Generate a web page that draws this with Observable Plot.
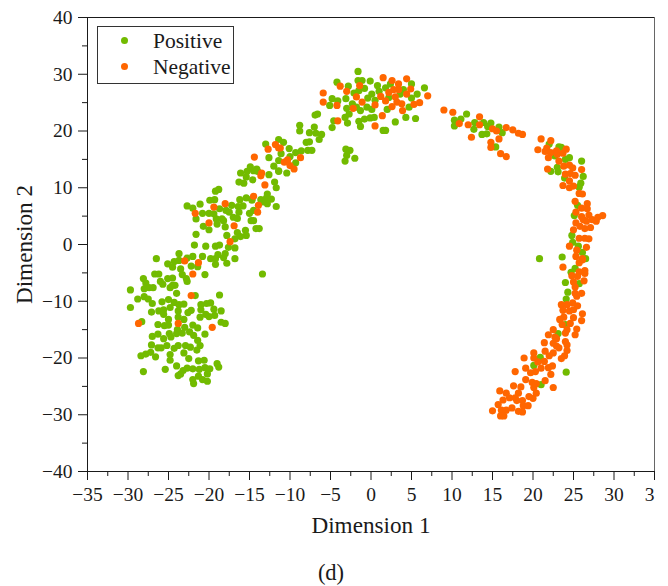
<!DOCTYPE html>
<html><head><meta charset="utf-8">
<script src="https://cdn.jsdelivr.net/npm/d3@7"></script>
<script src="https://cdn.jsdelivr.net/npm/@observablehq/plot@0.6"></script>
<style>
html,body{margin:0;padding:0;background:#fff;}
#wrap{position:relative;width:668px;height:586px;overflow:hidden;font-family:"Liberation Serif",serif;color:#1a1a1a;}
#legend{position:absolute;left:97px;top:26px;width:135px;height:56px;border:1px solid #333;box-sizing:content-box;}
.row{position:absolute;left:0;height:26px;font-size:21.5px;line-height:26px;}
.row i{position:absolute;left:23px;top:9px;width:7px;height:7px;border-radius:50%;}
.row span{position:absolute;left:55px;white-space:nowrap;}
#caption{position:absolute;left:0;width:662px;text-align:center;top:560px;font-size:22.5px;line-height:26px;}
</style></head><body><div id="wrap"></div>
<script>
const positive = [
[-16.1,12.6],[-15.4,11.9],[-15.7,10.8],[-16.3,11.0],[-14.6,11.4],[-12.6,12.3],[-11.9,11.0],[-11.7,10.0],[-11.4,12.9],[-10.4,12.6],[-15.3,12.9],[-14.0,12.9],
[-12.8,8.9],[-16.2,7.9],[-15.4,8.2],[-14.7,7.8],[-14.7,8.0],[-13.6,7.9],[-12.9,8.2],[-12.3,8.0],[-12.8,7.2],[-11.7,6.7],[-13.3,7.5],[-19.2,9.4],[-18.8,9.7],[-19.9,7.8],[-19.3,7.9],[-21.1,7.1],[-22.7,6.8],[-22.0,6.4],
[-20.8,5.5],[-20.0,5.5],[-19.4,5.4],[-18.7,6.3],[-17.9,6.0],[-17.2,6.9],[-16.4,6.7],[-15.8,6.8],[-17.5,5.7],[-17.0,4.8],[-16.3,5.7],[-16.5,4.6],[-15.0,5.5],[-14.5,6.0],[-21.6,4.5],[-19.1,4.5],[-18.4,4.5],[-18.2,4.2],[-19.0,3.6],[-20.7,3.2],[-20.0,2.6],[-18.0,3.1],
[-14.8,4.2],[-14.5,4.2],[-14.2,2.8],[-13.8,2.8],[-16.5,2.1],[-15.5,2.5],[-15.4,1.6],[-16.1,1.4],[-16.8,1.0],[-17.8,1.6],[-21.6,1.8],[-21.8,-0.1],[-20.4,-0.3],[-19.2,-0.3],[-18.7,-0.1],[-17.6,-0.5],[-16.8,-0.6],
[-23.7,-1.6],[-22.0,-2.1],[-22.7,-2.4],[-20.8,-2.1],[-18.9,-1.8],[-18.0,-1.6],[-19.8,-2.5],[-19.2,-2.5],[-18.2,-2.3],[-16.8,-2.5],[-17.8,-3.3],[-19.2,-3.5],[-26.5,-2.5],[-25.1,-3.4],[-24.3,-3.0],[-23.7,-2.8],[-24.5,-4.0],[-23.5,-4.3],[-22.2,-3.8],[-21.4,-3.9],[-20.5,-5.3],[-13.4,-5.2],
[-23.3,-5.3],[-22.8,-6.0],[-22.7,-6.5],[-26.7,-5.2],[-26.2,-5.2],[-28.1,-6.0],[-27.8,-6.8],[-26.0,-6.5],[-25.7,-7.0],[-25.1,-6.0],[-24.5,-5.9],[-24.5,-7.2],[-24.2,-7.2],[-28.0,-7.8],[-27.4,-7.6],[-26.9,-7.6],[-24.8,-7.6],[-24.0,-8.6],[-29.7,-8.0],
[-28.8,-9.6],[-28.0,-9.2],[-27.5,-9.6],[-27.0,-10.4],[-25.8,-10.1],[-25.0,-9.7],[-24.3,-10.2],[-23.7,-10.6],[-23.1,-10.5],[-21.7,-9.0],[-18.7,-8.9],[-29.7,-11.1],[-27.1,-11.9],[-26.2,-11.7],[-25.6,-11.5],[-24.8,-11.1],[-23.8,-11.7],[-25.6,-12.3],[-25.0,-13.2],[-23.8,-12.8],[-23.1,-13.2],[-22.2,-11.6],[-22.6,-12.0],
[-21.0,-10.6],[-20.3,-10.4],[-19.8,-10.3],[-21.0,-11.5],[-19.4,-11.4],[-18.5,-11.7],[-21.1,-12.8],[-20.4,-12.3],[-20.0,-12.7],[-19.3,-12.5],[-28.3,-13.6],[-26.3,-14.1],[-25.5,-14.3],[-25.0,-14.2],[-18.5,-13.7],[-18.0,-13.9],[-23.9,-15.0],[-23.0,-14.6],[-22.0,-14.2],[-21.4,-14.7],
[-27.0,-16.2],[-26.3,-15.8],[-24.9,-15.7],[-24.7,-16.3],[-24.0,-15.7],[-23.3,-15.6],[-22.4,-15.4],[-21.9,-16.0],[-20.5,-15.8],[-25.6,-16.6],[-21.4,-16.9],[-21.1,-17.8],[-27.1,-17.7],[-26.3,-18.2],[-25.9,-18.2],[-25.2,-17.8],[-24.3,-18.3],[-23.8,-17.8],[-22.9,-17.8],[-22.3,-18.1],[-21.5,-18.6],
[-24.8,-19.4],[-23.1,-19.1],[-28.4,-19.6],[-27.8,-19.3],[-27.2,-19.0],[-26.6,-19.8],[-24.8,-20.4],[-22.5,-20.1],[-21.3,-20.5],[-20.6,-20.4],[-19.0,-21.0],[-18.8,-21.6],[-24.0,-21.4],[-25.4,-22.0],[-28.1,-22.4],[-23.2,-22.2],[-22.7,-21.8],[-22.0,-21.9],[-21.2,-22.0],[-20.5,-21.7],[-19.9,-21.9],[-23.5,-22.8],[-23.8,-23.1],[-20.2,-22.8],[-21.3,-23.2],[-22.0,-23.8],[-20.8,-23.8],[-20.2,-24.1],[-21.9,-24.5],
[-1.6,30.5],[-4.2,28.6],[-2.8,27.9],[-1.6,28.9],[-1.1,28.9],[-0.1,28.8],[0.8,28.0],[1.8,27.6],[2.4,28.3],[5.0,28.3],[6.6,27.6],[-2.1,26.7],[-1.5,27.1],[-0.8,27.5],[0.1,26.5],[1.0,27.0],[4.0,27.3],[3.6,26.5],[5.7,26.5],[-0.4,25.8],[0.5,25.4],[2.2,25.9],[5.0,25.8],[-3.1,25.7],[-4.8,25.7],[-4.1,25.3],[-5.1,24.5],[-2.3,24.8],[-3.0,24.0],[-1.8,24.2],[-1.3,23.6],[-0.5,24.2],[0.1,23.8],[2.0,23.8],[4.7,24.2],[-2.7,23.0],[-3.2,22.4],[-6.6,23.0],[-6.9,22.8],[-4.6,21.8],[-2.9,21.4],[-1.5,21.7],[-0.8,22.1],[-0.1,22.3],[0.4,22.4],[3.0,21.6],[4.3,22.4],[5.5,22.2],[-1.3,20.8],[-4.8,20.6],[1.5,20.1],[1.8,20.1],
[-8.8,21.0],[-8.8,20.0],[-7.0,20.7],[-7.6,19.7],[-6.8,19.6],[-6.1,19.4],[-6.4,18.5],[-8.0,18.0],[-7.6,18.1],[-3.1,16.8],[-2.6,16.6],[-3.0,15.7],[-3.2,14.7],[-2.0,15.2],[-13.0,17.7],[-11.4,18.5],[-10.8,18.0],[-10.1,16.9],[-9.3,16.2],[-8.6,16.5],[-7.8,16.6],[-7.3,16.6],[-10.0,15.5],[-11.1,16.0],[-12.6,15.3],[-11.4,14.8],[-9.3,14.4],[-12.0,13.8],[-11.4,13.0],[-14.9,13.7],[-14.1,13.3],[-14.5,13.0],
[11.8,23.0],[10.3,21.9],[11.1,22.1],[10.3,20.9],[12.8,21.5],[13.9,21.5],[14.8,21.4],[14.4,20.8],[12.7,20.3],[15.8,20.7],[16.2,19.7],[13.7,19.4],[14.3,19.5],[15.4,17.2],[22.0,17.7],[23.2,17.2],[23.5,17.1],[22.7,15.6],[24.5,15.3],[24.0,15.0],[26.0,14.7],[23.0,13.6],[22.2,12.9],[23.1,12.8],[26.2,12.0],[23.9,11.7],[25.9,10.8],[25.7,10.1],[25.5,6.9],[25.1,5.1],[24.8,1.6],[24.9,0.4],[25.6,-0.3],[26.1,-1.4],[23.6,-2.2],[20.8,-2.5],[26.5,-2.5],
[25.2,-4.2],[24.7,-4.9],[25.7,-6.9],[24.0,-6.7],[24.3,-8.4],[24.1,-9.6],[24.0,-14.1],[23.1,-15.7],[20.9,-19.9],[20.1,-21.3],[24.1,-22.5],[21.0,-24.7]
];
const negative = [
[-13.5,12.6],[-13.6,12.1],[-13.1,10.5],[-14.5,8.5],[-13.9,6.9],[-14.0,5.7],[-19.4,6.6],[-18.0,7.2],[-21.7,5.5],[-20.0,3.8],[-16.9,3.3],[-17.4,0.5],[-23.0,-2.9],[-21.3,-3.2],[-22.0,-5.2],[-22.2,-9.0],[-28.7,-13.9],[-23.8,-13.9],[-19.6,-14.6],
[1.5,29.4],[2.6,28.9],[4.4,29.2],[3.4,28.3],[-3.8,27.9],[-1.4,28.0],[-3.0,27.0],[-5.9,26.7],[4.9,27.4],[3.4,27.3],[2.8,27.3],[2.2,26.8],[1.2,26.1],[4.4,26.5],[7.0,26.2],[3.0,26.0],[-1.8,26.0],[1.8,25.3],[-1.1,25.1],[3.2,25.1],[3.8,24.8],[6.0,25.0],[5.3,24.7],[-5.9,25.1],[-4.2,24.5],[0.5,24.6],[2.6,24.3],[-2.2,24.0],[3.9,23.6],[1.4,22.7],[-4.1,21.8],[0.5,20.9],
[-11.8,17.6],[-11.2,17.0],[-11.4,17.0],[-12.7,16.8],[-14.4,15.4],[-8.7,15.3],[-10.3,14.9],[-10.7,14.5],[-10.0,13.9],[-9.5,13.3],
[9.0,23.7],[10.1,23.3],[13.4,22.5],[10.9,21.3],[12.0,21.1],[13.4,21.1],[12.4,18.9],[15.0,20.4],[15.5,20.0],[16.7,20.6],[17.5,20.2],[18.2,19.6],[18.7,19.4],[15.8,18.6],[14.8,18.0],[14.8,17.1],[16.0,16.0],[16.7,15.5],
[21.0,18.6],[22.2,18.3],[20.6,16.7],[21.7,17.0],[21.5,16.4],[22.2,16.2],[22.9,16.5],[23.0,15.9],[23.7,16.1],[24.1,16.8],[21.9,15.3],[23.2,14.7],[23.8,13.8],[24.5,14.0],[24.9,13.5],[21.8,13.3],[26.0,13.2],[24.0,12.4],[24.6,12.5],[25.2,12.2],[24.5,11.2],[23.7,10.4],[24.5,10.0],[25.0,10.3],[25.7,9.0],[26.1,8.9],[25.2,7.6],[26.7,7.2],[26.0,6.4],[26.7,6.3],[25.3,5.7],[26.9,5.2],[26.0,4.9],[26.2,4.4],[28.6,5.1],[28.0,4.8],[27.3,4.4],[27.8,4.1],[26.6,4.1],[25.3,3.8],[25.8,3.2],[26.4,2.8],[27.1,3.0],[25.0,2.6],[25.7,1.1],[26.4,1.1],[26.9,1.0],[24.5,-0.3],[26.6,-0.5],[25.4,-1.0],[25.3,-2.1],[26.1,-2.5],
[25.7,-3.2],[26.1,-2.7],[23.7,-4.0],[25.7,-4.8],[26.4,-4.6],[26.4,-5.1],[24.8,-5.5],[25.5,-5.6],[26.3,-6.4],[25.0,-6.6],[25.2,-7.5],[25.2,-8.6],[26.0,-8.6],[25.4,-9.1],[23.5,-10.6],[24.2,-10.6],[24.9,-10.3],[25.5,-10.8],[23.7,-11.6],[24.5,-11.7],[25.0,-11.5],[26.1,-12.2],[23.8,-12.8],[23.3,-13.2],[25.0,-12.9],[26.0,-13.4],[24.6,-13.9],[23.6,-14.1],[25.4,-14.9],[24.2,-15.0],[24.0,-15.6],[25.2,-15.9],
[22.5,-15.0],[21.9,-15.9],[22.7,-16.3],[22.9,-16.6],[21.4,-17.3],[22.5,-17.4],[24.0,-17.1],[23.2,-18.2],[24.2,-17.7],[24.2,-18.7],[22.9,-17.9],[21.5,-18.8],[22.5,-19.1],[22.0,-19.6],[23.9,-19.6],[23.5,-20.1],[20.1,-19.1],[20.1,-20.0],[18.9,-20.0],[20.6,-20.7],[21.4,-20.6],[22.4,-21.4],[21.9,-21.7],[21.0,-21.8],[19.1,-21.8],[19.7,-22.6],[20.3,-22.4],[17.8,-22.4],[22.2,-22.9],[19.1,-23.8],[21.5,-24.0],[19.9,-24.3],[20.4,-24.5],[17.6,-24.9],[18.5,-25.1],[22.5,-25.2],[20.1,-25.2],
[15.9,-25.8],[16.7,-26.2],[18.2,-26.2],[20.4,-26.2],[17.1,-27.0],[17.8,-27.0],[19.5,-26.8],[20.0,-27.1],[16.3,-27.4],[18.0,-27.5],[18.7,-27.5],[15.7,-28.2],[18.8,-28.4],[19.4,-28.4],[17.4,-28.8],[15.0,-29.3],[16.1,-29.2],[16.7,-29.2],[18.2,-29.4],[18.7,-29.5],[16.0,-30.2],[16.4,-30.2]
];
const xMajor = [-35,-30,-25,-20,-15,-10,-5,0,5,10,15,20,25,30,35];
const xMinor = [-32.5,-27.5,-22.5,-17.5,-12.5,-7.5,-2.5,2.5,7.5,12.5,17.5,22.5,27.5,32.5];
const yMajor = [-40,-30,-20,-10,0,10,20,30,40];
const yMinor = [-35,-25,-15,-5,5,15,25,35];
const xDomain = [-35,35], yDomain = [-40,40];
const labels = {x:"Dimension 1", y:"Dimension 2", caption:"(d)"};
const series = [{name:"Positive",color:"#72bb00",data:positive},{name:"Negative",color:"#ff6600",data:negative}];
const fmt = d => String(d).replace("-","\u2212");
const ink = "#1a1a1a";
const chart = Plot.plot({
  width:655, height:586, marginLeft:87, marginRight:1, marginTop:17, marginBottom:115,
  x:{domain:xDomain}, y:{domain:yDomain},
  style:{fontFamily:"'Liberation Serif',serif",fontSize:"19.5px",color:ink,background:"#fff"},
  marks:[
    Plot.axisX({ticks:xMinor,tickSize:5,tickFormat:()=>"",label:null,stroke:ink,strokeWidth:1}),
    Plot.axisX({ticks:xMajor,tickSize:9,tickPadding:7,tickFormat:fmt,label:labels.x,labelAnchor:"center",labelArrow:"none",labelOffset:61,stroke:ink,strokeWidth:1,fontSize:19.5}),
    Plot.axisY({ticks:yMinor,tickSize:5,tickFormat:()=>"",label:null,stroke:ink,strokeWidth:1}),
    Plot.axisY({ticks:yMajor,tickSize:9,tickPadding:6,tickFormat:fmt,label:labels.y,labelAnchor:"center",labelArrow:"none",labelOffset:72,stroke:ink,strokeWidth:1,fontSize:19.5}),
    Plot.ruleX([xDomain[0]],{stroke:ink}),
    Plot.ruleX([xDomain[1]],{stroke:"#666"}),
    Plot.ruleY([yDomain[0],yDomain[1]],{stroke:ink}),
    ...series.map(s=>Plot.dot(s.data,{x:d=>d[0],y:d=>d[1],r:3.6,fill:s.color,stroke:"none"}))
  ]
});
const wrap = document.getElementById("wrap");
wrap.appendChild(chart);
chart.querySelectorAll('[aria-label="x-axis label"] text, [aria-label="y-axis label"] text, [aria-label="x-axis label"], [aria-label="y-axis label"]').forEach(e=>e.style.fontSize="23.2px");
const legend = document.createElement("div"); legend.id="legend";
series.forEach((s,i)=>{
  const r=document.createElement("div"); r.className="row"; r.style.top=(1+i*26)+"px"; r.style.width="100%";
  const dot=document.createElement("i"); dot.style.background=s.color;
  const t=document.createElement("span"); t.textContent=s.name;
  r.append(dot,t); legend.appendChild(r);
});
wrap.appendChild(legend);
const cap=document.createElement("div"); cap.id="caption"; cap.textContent=labels.caption; wrap.appendChild(cap);
</script></body></html>
